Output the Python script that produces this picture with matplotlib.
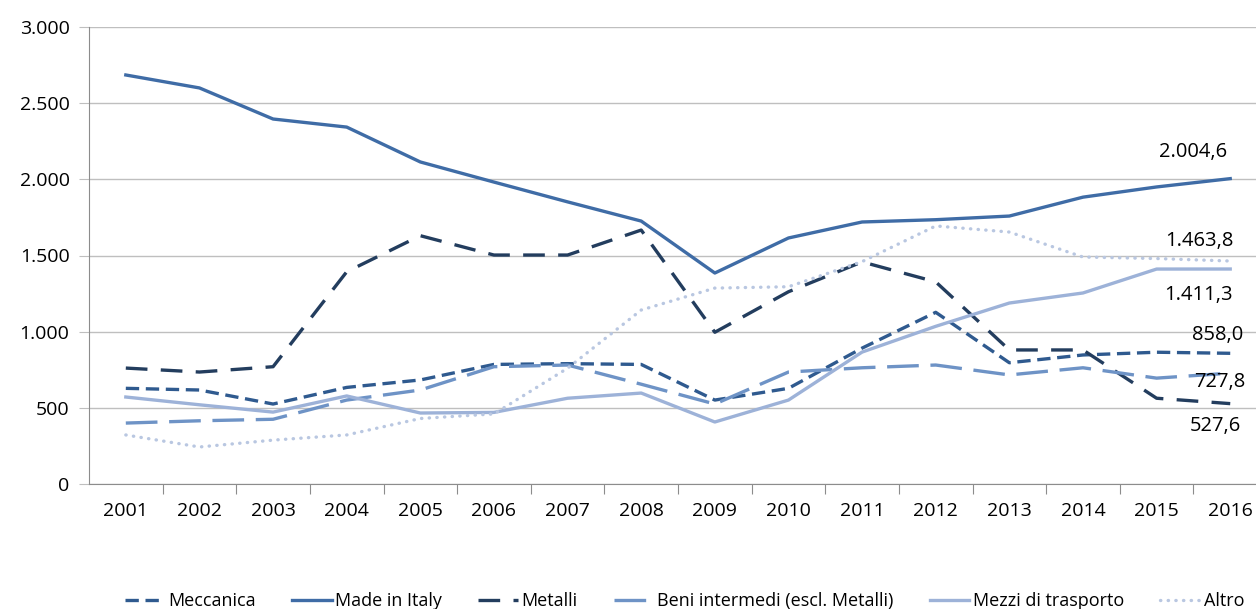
import matplotlib.pyplot as plt
from matplotlib.ticker import FuncFormatter

plt.rcParams['font.family'] = ['Open Sans', 'DejaVu Sans']

anni = [str(a) for a in range(2001, 2017)]
meccanica = [628, 617, 525, 634, 683, 785, 790, 785, 551, 628, 892, 1127, 796, 847, 865, 858.0]
made_in_italy = [2685, 2600, 2396, 2343, 2114, 1982, 1852, 1726, 1385, 1615, 1720, 1735, 1759, 1883, 1950, 2004.6]
metalli = [761, 735, 770, 1393, 1630, 1503, 1503, 1667, 996, 1262, 1458, 1327, 880, 880, 563, 527.6]
beni_intermedi = [400, 415, 425, 551, 617, 770, 781, 655, 525, 735, 763, 781, 716, 763, 695, 727.8]
mezzi_trasporto = [571, 520, 472, 578, 466, 470, 563, 597, 407, 551, 866, 1035, 1188, 1254, 1411, 1411.3]
altro = [322, 243, 288, 322, 430, 460, 760, 1142, 1286, 1295, 1460, 1694, 1654, 1490, 1480, 1463.8]

etichette = ['858,0', '2.004,6', '527,6', '727,8', '1.411,3', '1.463,8']

fig = plt.figure(figsize=(12.56, 6.09), dpi=100)
ax = fig.add_axes([89 / 1256, 125 / 609, 1 - 89 / 1256, 457 / 609])

x = list(range(len(anni)))
serie = [
    ('Meccanica', meccanica, '#2F5A8F', (0, (4, 2))),
    ('Made in Italy', made_in_italy, '#3F6CA6', '-'),
    ('Metalli', metalli, '#233D5E', (0, (6.5, 4))),
    ('Beni intermedi (escl. Metalli)', beni_intermedi, '#6E93C6', (0, (9.5, 3.5))),
    ('Mezzi di trasporto', mezzi_trasporto, '#9DB2D8', '-'),
    ('Altro', altro, '#B9C7E1', (0, (0.1, 2.2))),
]
for nome, valori, colore, stile in serie:
    ax.plot(x, valori, color=colore, linestyle=stile, linewidth=2.4,
            dash_capstyle='round' if nome == 'Altro' else 'butt', label=nome)

# etichette valori 2016
offset = [(-13, 18), (-37, 27), (-15, -22), (-10, -9), (-32, -26), (-31, 20)]
for (nome, valori, colore, stile), testo, (dx, dy) in zip(serie, etichette, offset):
    ax.annotate(testo, (x[-1], valori[-1]), xytext=(dx, dy), textcoords='offset pixels',
                ha='center', va='center', fontsize=14.5)

ax.set_ylim(0, 3000)
ax.set_xlim(-0.5, 15.35)
ax.set_yticks(range(0, 3001, 500))
ax.yaxis.set_major_formatter(FuncFormatter(lambda v, p: f'{int(v):,}'.replace(',', '.')))
ax.grid(axis='y', color='#BFBFBF', linewidth=1)
ax.set_axisbelow(True)

ax.set_xticks([i + 0.5 for i in range(15)])
ax.set_xticklabels([])
ax.set_xticks(x, minor=True)
ax.set_xticklabels(anni, minor=True)
ax.tick_params(axis='x', which='major', length=7, color='#8C8C8C', direction='out')
ax.tick_params(axis='x', which='minor', length=0, pad=13, labelsize=14)
ax.tick_params(axis='y', length=7, color='#BFBFBF', labelsize=14, pad=7)

for lato in ['top', 'right']:
    ax.spines[lato].set_visible(False)
ax.spines['left'].set_color('#8C8C8C')
ax.spines['bottom'].set_color('#8C8C8C')

fig.legend(loc='center', bbox_to_anchor=(0.545, 0.013), ncol=6, frameon=False,
           fontsize=13, handlelength=2.2, columnspacing=2.0, handletextpad=0.2)

fig.savefig('out.png', dpi=100, facecolor='w')
